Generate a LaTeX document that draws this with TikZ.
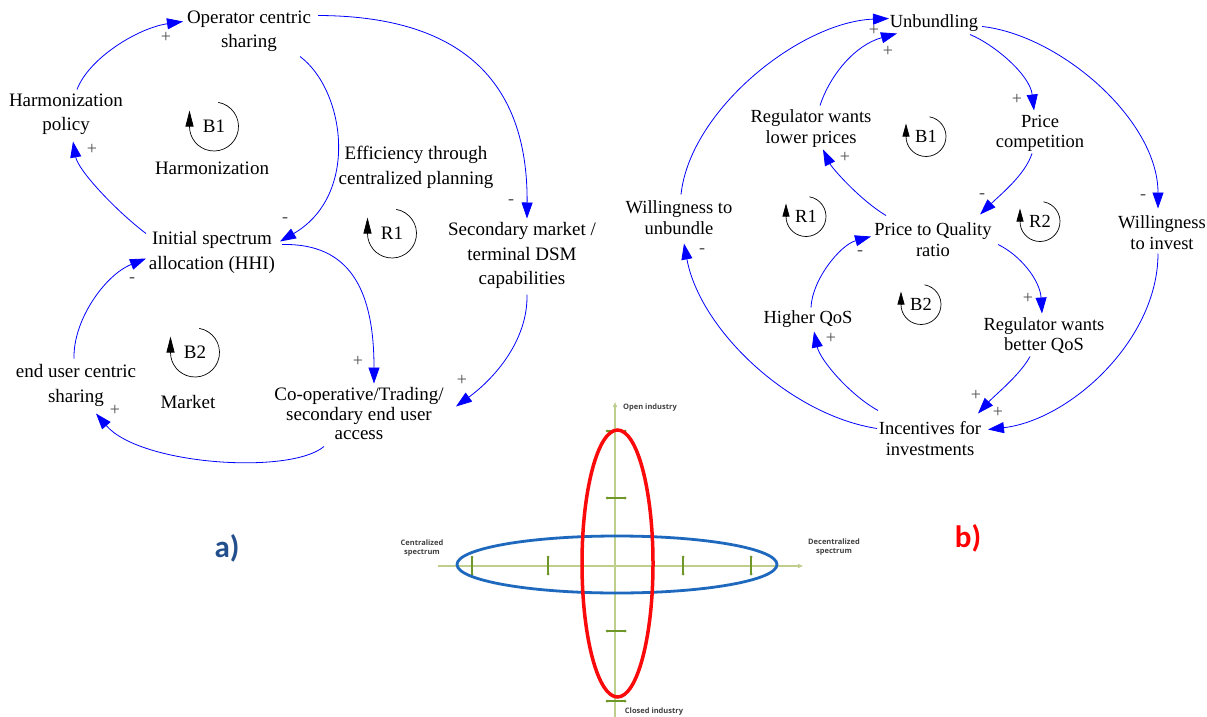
\documentclass[tikz,border=0pt]{standalone}
\usepackage{fontspec}
\setmainfont{Liberation Serif}
\newfontfamily\serfont{Liberation Serif}
\newfontfamily\labfont{Carlito}
\newfontfamily\axfont{Open Sans}
\usetikzlibrary{arrows.meta}
\definecolor{linkblue}{RGB}{0,0,255}
\definecolor{axgreen}{RGB}{190,206,140}
\definecolor{tickgreen}{RGB}{110,150,40}
\definecolor{ellred}{RGB}{250,10,10}
\definecolor{ellblue}{RGB}{30,105,190}
\definecolor{labblue}{RGB}{35,80,140}
\begin{document}
\begin{tikzpicture}[x=1pt,y=-1pt,
  txta/.style={font=\serfont\fontsize{19}{24.5}\selectfont, align=center, inner sep=0pt, yshift=-1.5pt},
  txtb/.style={font=\serfont\fontsize{18.5}{20.5}\selectfont, align=center, inner sep=0pt, yshift=-1.5pt},
  link/.style={draw=linkblue, line width=0.8pt, -{Triangle[length=16pt,width=11pt]}},
  sgn/.style={font=\serfont\fontsize{18}{18}\selectfont, text=black!70, inner sep=0pt},
  loopc/.style={draw=black, line width=0.7pt},
  looptipa/.style={-{Triangle[length=16pt,width=8pt]}, line width=0.7pt},
  looptipb/.style={-{Triangle[length=13pt,width=7pt]}, line width=0.7pt},
  axisln/.style={draw=axgreen, line width=1.4pt},
  tickln/.style={draw=tickgreen, line width=1.1pt},
  axlab/.style={font=\axfont\bfseries\fontsize{7.5}{9.5}\selectfont, text=black!75, align=center, inner sep=0pt},
  panlab/.style={font=\labfont\bfseries\fontsize{31}{31}\selectfont, inner sep=0pt}
]
\useasboundingbox (0,0) rectangle (1207,717);
\fill[white] (0,0) rectangle (1207,717);

% ---------------- panel a ----------------
\node[txta] (opc) at (249,30) {Operator centric\\sharing};
\node[txta] (hp) at (66,113) {Harmonization\\policy};
\node[txta] (harm) at (212,167) {Harmonization};
\node[txta] (eff) at (416,166) {Efficiency through\\centralized planning};
\node[txta] (sec) at (522,254) {Secondary market /\\terminal DSM\\capabilities};
\node[txta] (isa) at (212,251) {Initial spectrum\\allocation (HHI)};
\node[txta] (mkt) at (188,400) {Market};
\node[txta] (eus) at (76,384) {end user centric\\sharing};
\node[font=\serfont\fontsize{19}{19.5}\selectfont, align=center, inner sep=0pt, yshift=-1.5pt] (coop) at (359,412) {Co-operative/Trading/\\secondary end user\\access};

% loop markers a
\node[txta] (lab1) at (214,125) {B1};
\draw[loopc] ([shift={(-80:24.5)}]lab1.center) arc[start angle=-80,end angle=180,radius=24.5];
\draw[looptipa] ([shift={(-24.5,0)}]lab1.center) -- ++(0,-16);
\node[txta] (lar1) at (392,232) {R1};
\draw[loopc] ([shift={(-80:24.5)}]lar1.center) arc[start angle=-80,end angle=180,radius=24.5];
\draw[looptipa] ([shift={(-24.5,0)}]lar1.center) -- ++(0,-16);
\node[txta] (lab2) at (195,351) {B2};
\draw[loopc] ([shift={(-80:24.5)}]lab2.center) arc[start angle=-80,end angle=180,radius=24.5];
\draw[looptipa] ([shift={(-24.5,0)}]lab2.center) -- ++(0,-16);

% links a
\draw[link] ([shift={(11,-25)}]hp.center) .. controls (89,58) and (138,28) .. ([shift={(-66,-10)}]opc.center);
\draw[link] ([shift={(69,-16)}]opc.center) .. controls (460,16) and (528,80) .. ([shift={(5,-37)}]sec.center);
\draw[link] ([shift={(51,25)}]opc.center) .. controls (345,90) and (360,195) .. ([shift={(68,-11)}]isa.center);
\draw[link] ([shift={(-66,-19)}]isa.center) .. controls (115,210) and (78,170) .. ([shift={(7,27)}]hp.center);
\draw[link] ([shift={(70,-8)}]isa.center) .. controls (350,243) and (374,290) .. ([shift={(15,-30)}]coop.center);
\draw[link] ([shift={(5,39)}]sec.center) .. controls (528,340) and (495,378) .. ([shift={(97,-7)}]coop.center);
\draw[link] ([shift={(-2,-27)}]eus.center) .. controls (73,320) and (105,275) .. ([shift={(-66,6)}]isa.center);
\draw[link] ([shift={(-35,33)}]coop.center) .. controls (290,475) and (140,465) .. ([shift={(20,28)}]eus.center);

% signs a
\node[sgn] (sa1) at (166,37) {+};
\node[sgn] (sa2) at (511,202) {-};
\node[sgn] (sa3) at (285,220) {-};
\node[sgn] (sa4) at (92,149) {+};
\node[sgn] (sa5) at (358,361) {+};
\node[sgn] (sa6) at (462,380) {+};
\node[sgn] (sa7) at (132,280) {-};
\node[sgn] (sa8) at (115,410) {+};

% ---------------- panel b ----------------
\node[txtb] (unb) at (934,22) {Unbundling};
\node[txtb] (rlp) at (811,127) {Regulator wants\\lower prices};
\node[txtb] (pc) at (1040,132) {Price\\competition};
\node[txtb] (wtu) at (679,216) {Willingness to\\unbundle};
\node[txtb] (ptq) at (933,238) {Price to Quality\\ratio};
\node[txtb] (wti) at (1162,231) {Willingness\\to invest};
\node[txtb] (hq) at (808,318) {Higher QoS};
\node[txtb] (rbq) at (1044,334) {Regulator wants\\better QoS};
\node[txtb] (inc) at (930,437) {Incentives for\\investments};

% loop markers b
\node[txtb] (lbb1) at (926,135) {B1};
\draw[loopc] ([shift={(-80:20)}]lbb1.center) arc[start angle=-80,end angle=180,radius=20];
\draw[looptipb] ([shift={(-20,0)}]lbb1.center) -- ++(0,-13);
\node[txtb] (lbr1) at (806,215) {R1};
\draw[loopc] ([shift={(-80:20)}]lbr1.center) arc[start angle=-80,end angle=180,radius=20];
\draw[looptipb] ([shift={(-20,0)}]lbr1.center) -- ++(0,-13);
\node[txtb] (lbr2) at (1040,220) {R2};
\draw[loopc] ([shift={(-80:20)}]lbr2.center) arc[start angle=-80,end angle=180,radius=20];
\draw[looptipb] ([shift={(-20,0)}]lbr2.center) -- ++(0,-13);
\node[txtb] (lbb2) at (921,303) {B2};
\draw[loopc] ([shift={(-80:20)}]lbb2.center) arc[start angle=-80,end angle=180,radius=20];
\draw[looptipb] ([shift={(-20,0)}]lbb2.center) -- ++(0,-13);

% links b
\draw[link] ([shift={(2,-23)}]wtu.center) .. controls (690,110) and (800,22) .. ([shift={(-45,-5)}]unb.center);
\draw[link] ([shift={(9,-23)}]rlp.center) .. controls (830,75) and (855,45) .. ([shift={(-37,10)}]unb.center);
\draw[link] ([shift={(48,3)}]unb.center) .. controls (1060,35) and (1158,120) .. ([shift={(-4,-24)}]wti.center);
\draw[link] ([shift={(36,11)}]unb.center) .. controls (995,45) and (1030,75) .. ([shift={(-6,-23)}]pc.center);
\draw[link] ([shift={(-8,20)}]pc.center) .. controls (1025,175) and (1000,195) .. ([shift={(47,-25)}]ptq.center);
\draw[link] ([shift={(-47,-24)}]ptq.center) .. controls (860,200) and (832,168) .. ([shift={(12,21)}]rlp.center);
\draw[link] ([shift={(3,-12)}]hq.center) .. controls (812,280) and (840,245) .. ([shift={(-62,-3)}]ptq.center);
\draw[link] ([shift={(65,5)}]ptq.center) .. controls (1020,255) and (1040,280) .. ([shift={(-2,-22)}]rbq.center);
\draw[link] ([shift={(-53,-10)}]inc.center) .. controls (790,415) and (700,330) .. ([shift={(5,26)}]wtu.center);
\draw[link] ([shift={(-4,21)}]wti.center) .. controls (1158,340) and (1070,420) .. ([shift={(58,-9)}]inc.center);
\draw[link] ([shift={(-14,21)}]rbq.center) .. controls (1020,375) and (995,395) .. ([shift={(48,-25)}]inc.center);
\draw[link] ([shift={(-52,-28)}]inc.center) .. controls (850,395) and (820,360) .. ([shift={(6,12)}]hq.center);

% signs b
\node[sgn] (sb1) at (874,30) {+};
\node[sgn] (sb2) at (888,51) {+};
\node[sgn] (sb3) at (1143,197) {-};
\node[sgn] (sb4) at (1017,99) {+};
\node[sgn] (sb5) at (982,196) {-};
\node[sgn] (sb6) at (845,157) {+};
\node[sgn] (sb7) at (860,253) {-};
\node[sgn] (sb8) at (1028,298) {+};
\node[sgn] (sb9) at (702,251) {-};
\node[sgn] (sb10) at (998,412) {+};
\node[sgn] (sb11) at (976,395) {+};
\node[sgn] (sb12) at (831,338) {+};

% ---------------- axes ----------------
\draw[axisln, -{Triangle[length=5pt,width=4pt]}] (615,717) -- (615,402);
\draw[axisln, -{Triangle[length=5pt,width=4pt]}] (438,566) -- (803,566);
\foreach \tx in {472,548,683,751}{
  \draw[tickln] (\tx,557) -- (\tx,574);
  \fill[tickgreen] (\tx,557) circle[radius=1.5] (\tx,574) circle[radius=1.5];
}
\foreach \ty in {431,498,631,701}{
  \draw[tickln] (607,\ty) -- (625,\ty);
  \fill[tickgreen] (607,\ty) circle[radius=1.5] (625,\ty) circle[radius=1.5];
}
\draw[ellblue, line width=2.8pt] (617,564.5) ellipse[x radius=160, y radius=28.5];
\draw[ellred, line width=3.5pt] (617.5,563.5) ellipse[x radius=35.5, y radius=133.5];
\node[axlab] (oi) at (650,408) {Open industry};
\node[axlab] (ci) at (654,712) {Closed industry};
\node[axlab] (cs) at (422,548) {Centralized\\spectrum};
\node[axlab] (ds) at (834,547) {Decentralized\\spectrum};

% panel labels
\node[panlab, text=labblue] (pa) at (227,548) {a)};
\node[panlab, text=red] (pb) at (968,538) {b)};
\end{tikzpicture}
\end{document}
